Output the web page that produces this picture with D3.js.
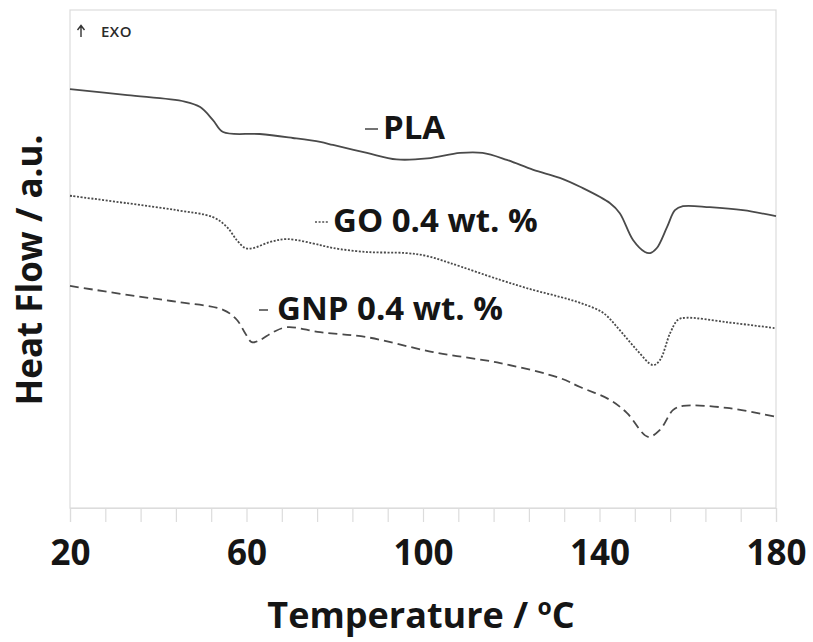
<!DOCTYPE html>
<html>
<head>
<meta charset="utf-8">
<script src="https://cdn.jsdelivr.net/npm/d3@7"></script>
<style>
  body { margin: 0; background: #fff; }
  text { font-family: "Open Sans", sans-serif; }
  .frame { fill: none; stroke: #dcdcdc; stroke-width: 1.2; }
  .axis path, .axis line { stroke: #dcdcdc; stroke-width: 1.2; }
  .axis text { font-size: 35px; font-weight: bold; fill: #151515; }
  .curve { fill: none; stroke: #4a4a4a; stroke-width: 1.8; }
</style>
</head>
<body>
<div id="chart"></div>
<script>
// DSC data (temperature in degC, heat flow in a.u.)
const plaTemp = [20, 33, 46, 49.5, 52.4, 54.7, 63, 70.5, 76.7, 79.6, 87.3, 94, 101, 108.4, 113.5, 119, 125, 131, 135.6, 142.4, 144.6, 147.6, 150.3, 151.5, 153, 155.3, 157.1, 158.9, 165, 172.5, 180];
const plaHeat = [84.1, 82.9, 81.6, 80.5, 77.9, 75.5, 75.1, 74.3, 73.5, 72.9, 71.3, 70.0, 70.2, 71.3, 71.3, 69.9, 67.9, 66.3, 64.5, 61.2, 59.2, 53.8, 51.4, 51.2, 52.2, 56.4, 59.8, 60.6, 60.4, 59.8, 58.6];

const goTemp = [20, 33, 44.2, 52.4, 55.6, 57.8, 59.7, 61.5, 65.3, 69.2, 76.7, 79.6, 87.3, 96, 100.9, 106.1, 117.5, 124.9, 131, 135.6, 140.8, 144.6, 148.5, 152.1, 153.7, 156, 157.8, 159.8, 168.9, 180];
const goHeat = [62.7, 61.2, 59.8, 58.4, 56.4, 53.8, 52.2, 52.2, 53.4, 54.0, 52.8, 52.2, 51.4, 51.2, 50.6, 49.2, 45.8, 43.8, 42.4, 41.2, 39.2, 35.7, 31.7, 28.7, 29.7, 35.1, 37.8, 38.2, 37.3, 36.1];

const gnpTemp = [20, 33, 44.2, 54.7, 57.8, 59.7, 61.2, 63, 66, 69.2, 76.7, 87.3, 102.3, 117.5, 131, 135.6, 142.4, 146.2, 151, 153.7, 156.7, 158.9, 168.9, 180];
const gnpHeat = [44.6, 42.8, 41.4, 39.8, 37.8, 35.1, 33.3, 33.7, 35.3, 36.3, 35.3, 34.3, 31.3, 29.1, 26.1, 24.3, 21.7, 19.1, 14.3, 15.7, 19.7, 20.5, 20.1, 18.3];

const seriesNames = ["PLA", "GO 0.4 wt. %", "GNP 0.4 wt. %"];
const xTickValues = [20, 60, 100, 140, 180];

// set the dimensions and margins of the chart
const width = 813;
const height = 642;
const margin = { top: 10, right: 37, bottom: 134, left: 70 };
const innerW = width - margin.left - margin.right;
const innerH = height - margin.top - margin.bottom;

var svg = d3.select("#chart")
    .append("svg")
    .attr("width", width)
    .attr("height", height)
    .append("g")
    .attr("transform", "translate(" + margin.left + "," + margin.top + ")");

var x = d3.scaleLinear().domain([20, 180]).range([0, innerW]);
var y = d3.scaleLinear().domain([0, 100]).range([innerH, 0]);

// plot frame
svg.append("rect")
    .attr("class", "frame")
    .attr("x", 0).attr("y", 0)
    .attr("width", innerW).attr("height", innerH);

// x axis: minor ticks every 8 degC, labels every 40
var xAxis = d3.axisBottom(x)
    .tickValues(d3.range(20, 181, 8))
    .tickSize(14)
    .tickPadding(18)
    .tickFormat(d => xTickValues.includes(d) ? d : "");

svg.append("g")
    .attr("class", "axis")
    .attr("transform", "translate(0," + innerH + ")")
    .call(xAxis);

// curves
var line = d3.line()
    .x(d => x(d[0]))
    .y(d => y(d[1]))
    .curve(d3.curveCatmullRom.alpha(0.5));

const styles = [
    { dash: null, width: 1.8 },
    { dash: "2,1.6", width: 1.7 },
    { dash: "9,5", width: 1.8 }
];
const series = [
    d3.zip(plaTemp, plaHeat),
    d3.zip(goTemp, goHeat),
    d3.zip(gnpTemp, gnpHeat)
];

series.forEach(function (s, i) {
    svg.append("path")
        .datum(s)
        .attr("class", "curve")
        .attr("stroke-width", styles[i].width)
        .attr("stroke-dasharray", styles[i].dash)
        .attr("d", line);
});

// inline labels (pixel layout inside the plot)
const labelPos = [
    { x: 313, y: 129 },
    { x: 263, y: 222 },
    { x: 207, y: 310 }
];

seriesNames.forEach(function (name, i) {
    var p = labelPos[i];
    svg.append("line")
        .attr("x1", p.x - 18).attr("x2", p.x - 5)
        .attr("y1", p.y - 10).attr("y2", p.y - 10)
        .attr("stroke", "#505050")
        .attr("stroke-width", 1.6)
        .attr("stroke-dasharray", styles[i].dash);
    svg.append("text")
        .attr("x", p.x)
        .attr("y", p.y)
        .attr("font-size", 33)
        .attr("font-weight", "bold")
        .attr("fill", "#151515")
        .text(name);
});

// exo marker (arrow + label)
svg.append("path")
    .attr("d", "M11,27 V16 M7.5,20 L11,15.5 L14.5,20")
    .attr("fill", "none")
    .attr("stroke", "#333")
    .attr("stroke-width", 1.4);
svg.append("text")
    .attr("x", 31)
    .attr("y", 27)
    .attr("font-size", 15)
    .attr("font-weight", 600)
    .attr("letter-spacing", 0.5)
    .attr("fill", "#2a2a2a")
    .text("EXO");

// axis titles
var xt = svg.append("text")
    .attr("x", innerW / 2 - 2)
    .attr("y", 618)
    .attr("text-anchor", "middle")
    .attr("font-size", 36)
    .attr("font-weight", "bold")
    .attr("fill", "#151515")
    .text("Temperature / ");
xt.append("tspan").attr("font-size", 23).attr("dy", -13).text("o");
xt.append("tspan").attr("dy", 13).text("C");

svg.append("text")
    .attr("transform", "translate(" + (42 - margin.left) + "," + (270 - margin.top) + ") rotate(-90)")
    .attr("text-anchor", "middle")
    .attr("font-size", 35)
    .attr("font-weight", "bold")
    .attr("fill", "#151515")
    .text("Heat Flow / a.u.");
</script>
</body>
</html>
